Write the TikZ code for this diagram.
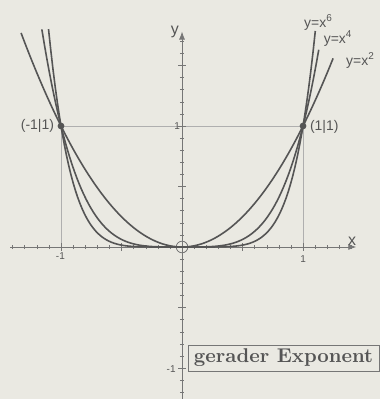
\documentclass[tikz,border=0pt]{standalone}
\usepackage{xcolor}
\usepackage{amsmath}
\usepackage{fontspec}
\usetikzlibrary{arrows.meta}

\newfontfamily\labelfont{Liberation Sans}
\definecolor{paper}{RGB}{234,233,226}
\definecolor{curvegray}{RGB}{85,85,85}
\definecolor{axisgray}{RGB}{118,118,118}
\definecolor{gridgray}{RGB}{175,175,175}

\begin{document}
\begin{tikzpicture}[x=2.134cm, y=2.134cm,
    every node/.style={font=\scriptsize\labelfont, text=curvegray},
    curve/.style={curvegray, line width=0.8pt, samples=120}]
  % Paper and frame of the picture
  \fill[paper] (-1.504,-1.256) rectangle (1.636,2.041);
  \useasboundingbox (-1.504,-1.256) rectangle (1.636,2.041);

  % Helper lines to the points (-1|1) and (1|1)
  \draw[gridgray, very thin] (-1,0) -- (-1,1) -- (1,1) -- (1,0);

  % Axes
  \draw[-{Latex[length=4pt,width=3pt]}, axisgray, thin] (-1.42,0) -- (1.44,0);
  \draw[-{Latex[length=4pt,width=3pt]}, axisgray, thin] (0,-1.256) -- (0,1.78);
  \foreach \t in {-14,...,-1,1,2,...,14}
    \draw[axisgray, very thin] (\t/10,-0.018) -- (\t/10,0.018);
  \foreach \t in {-12,...,-1,1,2,...,17}
    \draw[axisgray, very thin] (-0.018,\t/10) -- (0.018,\t/10);
  \foreach \t in {-1,-0.5,0.5,1}
    \draw[axisgray, thin] (\t,-0.03) -- (\t,0.03);
  \foreach \t in {-1,-0.5,0.5,1,1.5}
    \draw[axisgray, thin] (-0.03,\t) -- (0.03,\t);
  \node[font=\footnotesize\labelfont] (xlabel) at (1.405,0.05) {x};
  \node[font=\footnotesize\labelfont] (ylabel) at (-0.06,1.78) {y};
  \node[font=\tiny\labelfont] (xmone) at (-1.005,-0.075) {-1};
  \node[font=\tiny\labelfont] (xone) at (1.0,-0.1) {1};
  \node[font=\tiny\labelfont] (yone) at (-0.04,1.0) {1};
  \node[font=\tiny\labelfont] (ymone) at (-0.09,-1.005) {-1};

  % Origin
  \draw[axisgray, thin] (0,0) circle (0.048);

  % The three parabolas
  \draw[curve, domain=-1.33:1.25] plot (\x, {\x*\x});
  \draw[curve, domain=-1.158:1.13] plot (\x, {\x*\x*\x*\x});
  \draw[curve, domain=-1.103:1.103] plot (\x, {\x*\x*\x*\x*\x*\x});

  % Common points
  \fill[curvegray] (-1,1) circle (0.028);
  \fill[curvegray] (1,1) circle (0.028);
  \node[anchor=east, inner sep=1.5pt] (ptleft) at (-1.03,1) {(-1\textbar1)};
  \node[anchor=west, inner sep=1.5pt] (ptright) at (1.03,0.99) {(1\textbar1)};

  % Curve labels
  \node (lblsix) at (1.128,1.855) {y=x\textsuperscript{6}};
  \node (lblfour) at (1.29,1.72) {y=x\textsuperscript{4}};
  \node (lbltwo) at (1.475,1.545) {y=x\textsuperscript{2}};

  % Caption box
  \node[draw=axisgray, fill=paper, font=\normalsize\rmfamily\bfseries,
        minimum width=3.37cm, minimum height=0.46cm, inner sep=0pt]
    (caption) at (0.839,-0.917) {gerader Exponent};
\end{tikzpicture}
\end{document}
